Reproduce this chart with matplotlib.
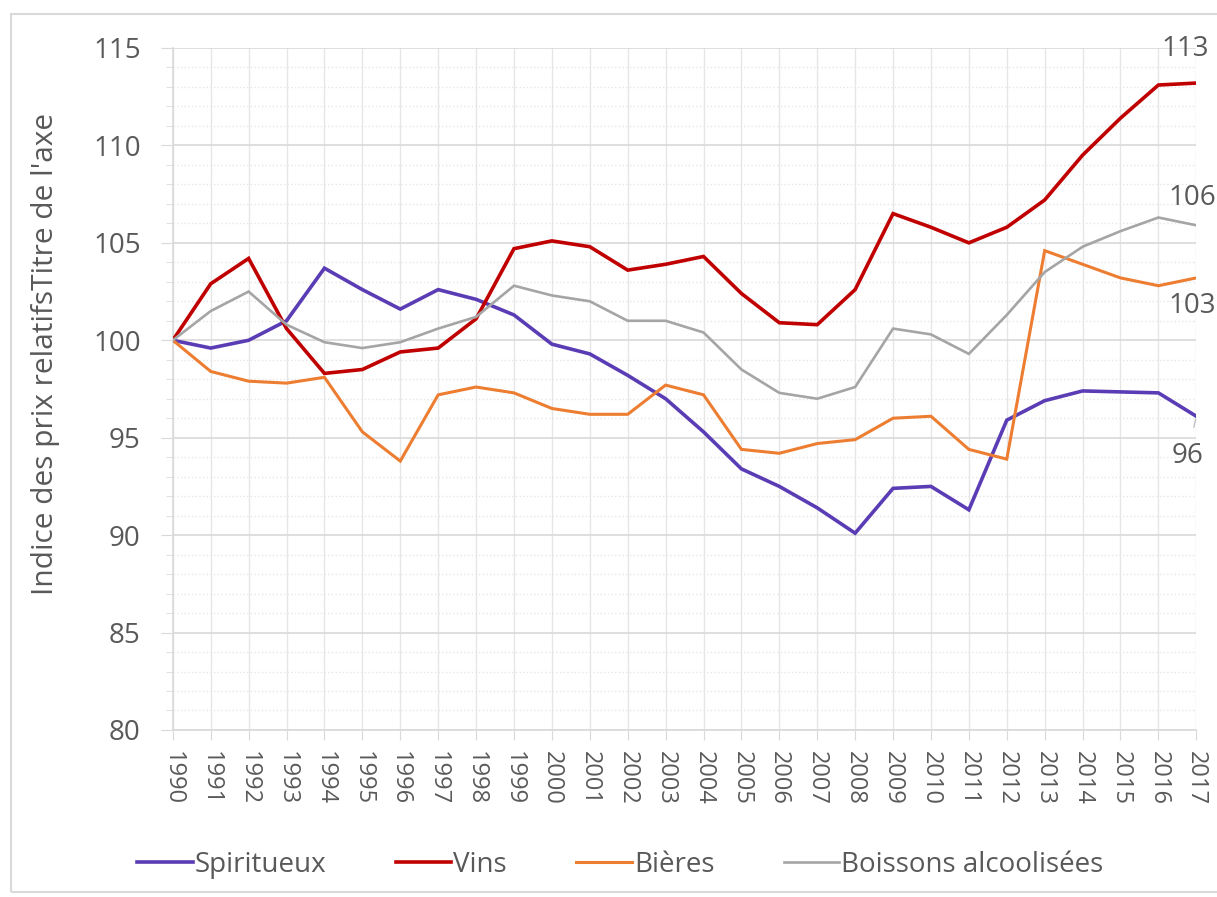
import matplotlib
matplotlib.use("Agg")
import matplotlib.pyplot as plt
from matplotlib.ticker import MultipleLocator
from matplotlib.patches import Rectangle

years = list(range(1990, 2018))
spiritueux = [100.0, 99.6, 100.0, 101.0, 103.7, 102.6, 101.6, 102.6, 102.1, 101.3,
              99.8, 99.3, 98.2, 97.0, 95.3, 93.4, 92.5, 91.4, 90.1, 92.4,
              92.5, 91.3, 95.9, 96.9, 97.4, 97.35, 97.3, 96.1]
vins = [100.0, 102.9, 104.2, 100.6, 98.3, 98.5, 99.4, 99.6, 101.1, 104.7,
        105.1, 104.8, 103.6, 103.9, 104.3, 102.4, 100.9, 100.8, 102.6, 106.5,
        105.8, 105.0, 105.8, 107.2, 109.5, 111.4, 113.1, 113.2]
bieres = [100.0, 98.4, 97.9, 97.8, 98.1, 95.3, 93.8, 97.2, 97.6, 97.3,
          96.5, 96.2, 96.2, 97.7, 97.2, 94.4, 94.2, 94.7, 94.9, 96.0,
          96.1, 94.4, 93.9, 104.6, 103.9, 103.2, 102.8, 103.2]
boissons = [100.0, 101.5, 102.5, 100.8, 99.9, 99.6, 99.9, 100.6, 101.2, 102.8,
            102.3, 102.0, 101.0, 101.0, 100.4, 98.5, 97.3, 97.0, 97.6, 100.6,
            100.3, 99.3, 101.3, 103.5, 104.8, 105.6, 106.3, 105.9]
series_names = ["Spiritueux", "Vins", "Bières", "Boissons alcoolisées"]
end_labels = ["96", "113", "103", "106"]

plt.rcParams['font.family'] = ['Open Sans', 'DejaVu Sans']
txt = '#595959'

fig = plt.figure(figsize=(12.17, 8.97), dpi=100)
fig.patches.append(Rectangle((0.009, 0.006), 0.995, 0.978, transform=fig.transFigure,
                             fill=False, edgecolor='#D9D9D9', linewidth=1.5))
ax = fig.add_axes([0.142, 0.1862, 0.841, 0.7603])

colors = ['#5A3DB4', '#C00000', '#ED7D31', '#A5A5A5']
widths = [2.6, 2.6, 2.2, 1.9]
data = [spiritueux, vins, bieres, boissons]
for name, vals, c, w in zip(series_names, data, colors, widths):
    ax.plot(years, vals, color=c, lw=w, label=name, solid_joinstyle='miter', zorder=3)

ax.set_xlim(1990, 2017)
ax.set_ylim(80, 115)
ax.yaxis.set_major_locator(MultipleLocator(5))
ax.yaxis.set_minor_locator(MultipleLocator(1))
ax.set_xticks(years)
ax.set_xticklabels([str(y) for y in years], rotation=270, fontsize=17, color=txt)
ax.tick_params(axis='y', which='major', labelsize=20, labelcolor=txt, length=9, color='#D9D9D9', pad=14)
ax.tick_params(axis='y', which='minor', length=5, color='#D9D9D9')
ax.tick_params(axis='x', length=7, color='#D9D9D9', pad=8)

ax.grid(True, which='major', axis='y', color='#D9D9D9', lw=1.2)
ax.grid(True, which='minor', axis='y', color='#E6E6E6', lw=1.0, linestyle=':')
ax.grid(True, which='major', axis='x', color='#E6E6E6', lw=1.0)
for s in ['top', 'right']:
    ax.spines[s].set_visible(False)
for s in ['left', 'bottom']:
    ax.spines[s].set_color('#D9D9D9')
    ax.spines[s].set_linewidth(1.2)

ax.set_ylabel("Indice des prix relatifsTitre de l'axe", fontsize=21.5, color=txt)
ax.yaxis.set_label_coords(-0.110, 0.551)

# end labels
lab_kw = dict(textcoords='offset pixels', fontsize=20, color=txt, ha='center', va='center',
              annotation_clip=False)
ax.annotate(end_labels[1], (years[-1], vins[-1]), xytext=(-11, 34), **lab_kw)
ax.annotate(end_labels[3], (years[-1], boissons[-1]), xytext=(-4, 27), **lab_kw)
ax.annotate(end_labels[2], (years[-1], bieres[-1]), xytext=(-4, -28), **lab_kw)
ax.annotate(end_labels[0], (years[-1], spiritueux[-1]), xytext=(-9, -40),
            arrowprops=dict(arrowstyle='-', color='#BFBFBF', lw=1, shrinkA=9, shrinkB=2),
            **lab_kw)

leg = fig.legend(loc='center', bbox_to_anchor=(0.5097, 0.0357), ncol=4, frameon=False,
                 fontsize=20, handlelength=2.0, columnspacing=2.5, handletextpad=0.07)
for t in leg.get_texts():
    t.set_color(txt)

fig.savefig('out.png', dpi=100)
